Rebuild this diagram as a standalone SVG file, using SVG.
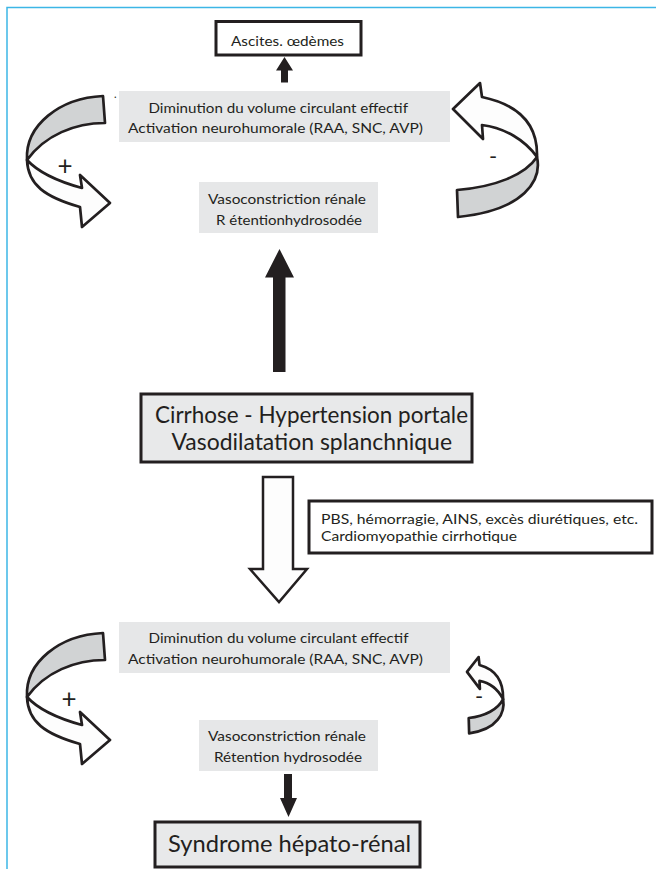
<svg xmlns="http://www.w3.org/2000/svg" width="656" height="869" viewBox="0 0 656 869">
<style>
  .t { font-family: Lato, "Open Sans", "Liberation Sans", sans-serif; fill: #231f20; font-size: 14px; }
  .big { font-size: 23px; }
  .shr { font-size: 24px; }
  .plus { font-size: 26px; text-anchor: middle; }
  .minus { font-size: 22px; text-anchor: middle; }
  .dot { font-size: 11px; }
  .gbox { fill: #e6e7e8; stroke: none; }
  .bbox { stroke: #231f20; stroke-width: 3; }
  .ribbon { stroke: #231f20; stroke-width: 2.7; stroke-linejoin: round; }
  .grey { fill: #d1d3d4; }
  .white { fill: #fdfdfd; }
  .frame { stroke: #3cb6e6; stroke-width: 1.5; fill: none; }
</style>
<rect width="656" height="869" fill="#ffffff"/>
<path class="frame" d="M7,869 L7,7.5 L656,7.5"/>

<g id="ascites">
  <rect class="bbox" x="216" y="21.5" width="145" height="33.5" fill="#ffffff"/>
  <text class="t" x="231" y="45.5" textLength="113" lengthAdjust="spacingAndGlyphs">Ascites. œdèmes</text>
</g>

<g id="diminution-top">
  <rect class="gbox" x="119" y="91" width="331" height="51"/>
  <text class="t" x="148.5" y="112.5" textLength="259.5" lengthAdjust="spacingAndGlyphs">Diminution du volume circulant effectif</text>
  <text class="t" x="128" y="133" textLength="295" lengthAdjust="spacingAndGlyphs">Activation neurohumorale (RAA, SNC, AVP)</text>
  <text class="t dot" x="114" y="98">.</text>
</g>

<g id="vaso-top">
  <rect class="gbox" x="199" y="182" width="179" height="51"/>
  <text class="t" x="208" y="204" textLength="158" lengthAdjust="spacingAndGlyphs">Vasoconstriction rénale</text>
  <text class="t" x="216" y="225" textLength="146" lengthAdjust="spacingAndGlyphs">R étentionhydrosodée</text>
</g>

<g id="cirrhose">
  <rect class="bbox" x="141" y="394" width="331" height="68" fill="#e8e9ea" stroke-width="2.5"/>
  <text class="t big" x="155" y="423" textLength="313" lengthAdjust="spacingAndGlyphs">Cirrhose - Hypertension portale</text>
  <text class="t big" x="171.5" y="450" textLength="280.5" lengthAdjust="spacingAndGlyphs">Vasodilatation splanchnique</text>
</g>

<g id="precipitants">
  <rect class="bbox" x="309" y="501" width="343" height="52" fill="#ffffff" stroke-width="2.5"/>
  <text class="t" x="321" y="524" textLength="317" lengthAdjust="spacingAndGlyphs">PBS, hémorragie, AINS, excès diurétiques, etc.</text>
  <text class="t" x="321" y="541" textLength="196" lengthAdjust="spacingAndGlyphs">Cardiomyopathie cirrhotique</text>
</g>

<g id="diminution-bottom">
  <rect class="gbox" x="119" y="622" width="331" height="51"/>
  <text class="t" x="148.5" y="643" textLength="260" lengthAdjust="spacingAndGlyphs">Diminution du volume circulant effectif</text>
  <text class="t" x="128" y="664" textLength="295" lengthAdjust="spacingAndGlyphs">Activation neurohumorale (RAA, SNC, AVP)</text>
</g>

<g id="vaso-bottom">
  <rect class="gbox" x="199" y="720" width="179" height="51"/>
  <text class="t" x="208" y="741" textLength="158" lengthAdjust="spacingAndGlyphs">Vasoconstriction rénale</text>
  <text class="t" x="214" y="762" textLength="148" lengthAdjust="spacingAndGlyphs">Rétention hydrosodée</text>
</g>

<g id="shr">
  <rect class="bbox" x="155" y="822" width="265" height="45" fill="#e8e9ea"/>
  <text class="t shr" x="168" y="852" textLength="243" lengthAdjust="spacingAndGlyphs">Syndrome hépato-rénal</text>
</g>

<g id="connectors">
  <polygon fill="#231f20" points="284.5,57 276,70.5 281,70.5 281,82.5 288,82.5 288,70.5 293,70.5"/>
  <polygon fill="#231f20" points="279.5,249 265,277.5 273,277.5 273,372 285.5,372 285.5,277.5 294,277.5"/>
  <polygon fill="#fdfdfd" stroke="#231f20" stroke-width="2.5" stroke-linejoin="miter" points="263,477 293,477 293,569 307,569 279,602 250,569 263,569"/>
  <polygon fill="#231f20" points="284,774 292,774 292,798 297,798 288.5,817 280,798 284,798"/>

  <g id="loop-plus-top">
    <path class="ribbon grey" d="M103,96 C60,98 25,125 27,160 C45,135 75,123 105,123 Z"/>
    <path class="ribbon white" d="M27,160 C28,185 45,197 80,207 L82,227 L110,203 L80,175 L82,188 C60,182 38,172 27,160 Z"/>
  </g>
  <text class="t plus" x="65" y="175">+</text>

  <g id="loop-minus-top">
    <path class="ribbon white" d="M537,157 C538,125 520,105 482,97 L480,83 L453,109 L483,139 L482,125 C505,128 525,140 537,157 Z"/>
    <path class="ribbon grey" d="M537,157 C542,180 525,210 458,217 L457,190 C495,187 525,175 537,157 Z"/>
  </g>
  <text class="t minus" x="493" y="164">-</text>

  <g id="loop-plus-bottom" transform="translate(0,537)">
    <path class="ribbon grey" d="M103,96 C60,98 25,125 27,160 C45,135 75,123 105,123 Z"/>
    <path class="ribbon white" d="M27,160 C28,185 45,197 80,207 L82,227 L110,203 L80,175 L82,188 C60,182 38,172 27,160 Z"/>
  </g>
  <text class="t plus" x="69" y="708">+</text>

  <g id="loop-minus-bottom" transform="matrix(0.43 0 0 0.57 272.21 609.69)">
    <path class="ribbon white" vector-effect="non-scaling-stroke" d="M537,157 C538,125 520,105 482,97 L480,83 L453,109 L483,139 L482,125 C505,128 525,140 537,157 Z"/>
    <path class="ribbon grey" vector-effect="non-scaling-stroke" d="M537,157 C542,180 525,210 458,217 L457,190 C495,187 525,175 537,157 Z"/>
  </g>
  <text class="t minus" x="479" y="704">-</text>
</g>
</svg>
